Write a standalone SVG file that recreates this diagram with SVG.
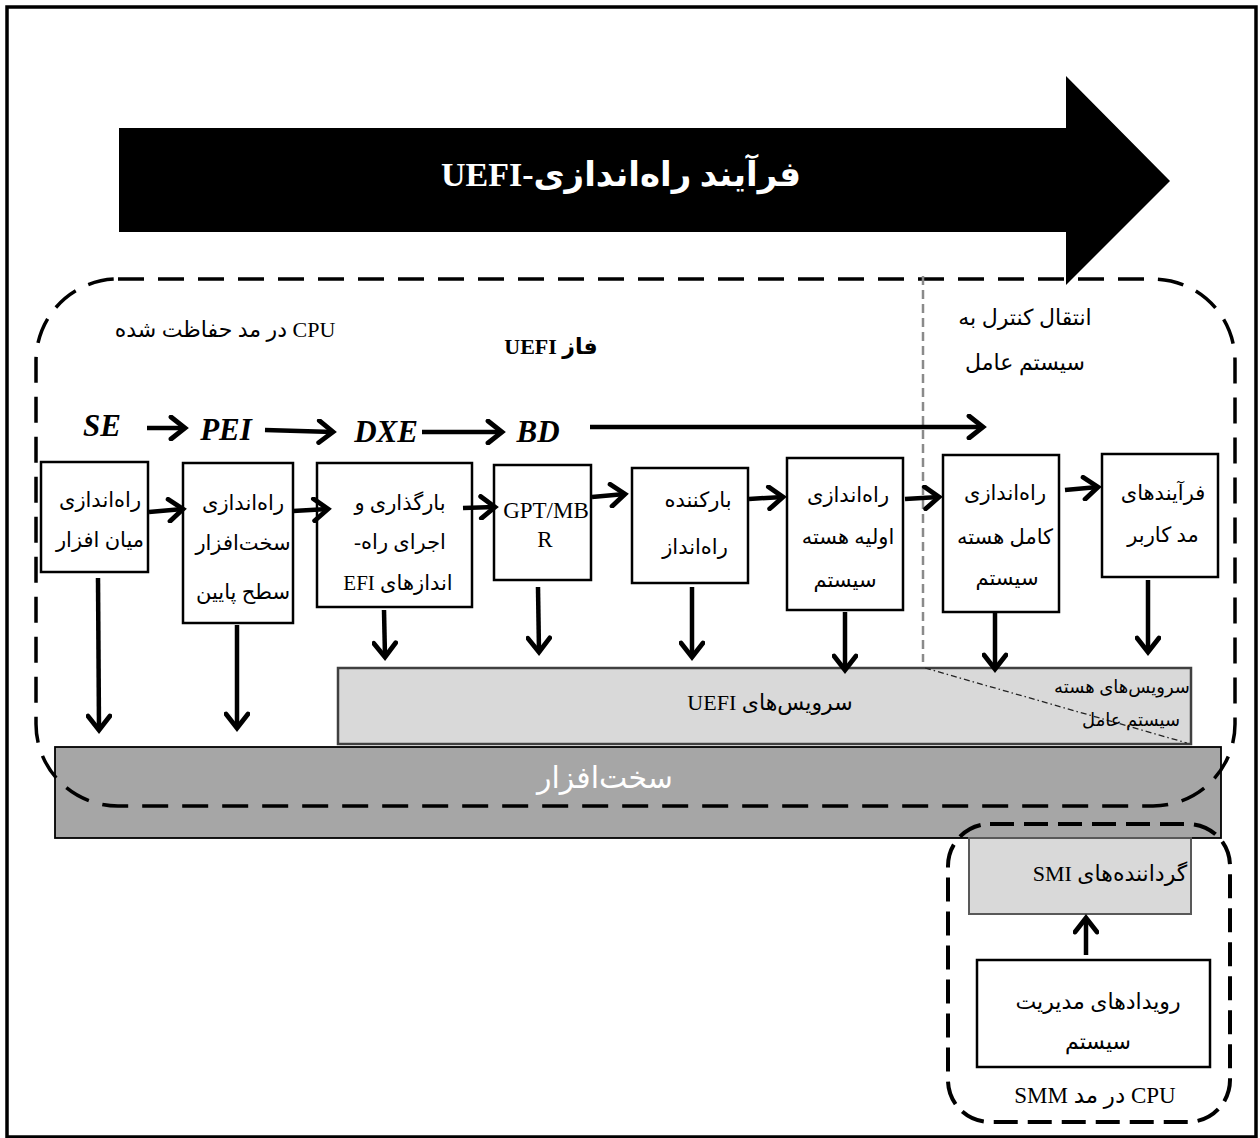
<svg xmlns="http://www.w3.org/2000/svg" width="1260" height="1138" viewBox="0 0 1260 1138">
<style>
.fa{font-family:'Liberation Serif','DejaVu Sans',serif;font-size:21px;direction:rtl;text-anchor:middle;fill:#000}
.lat{font-family:'Liberation Serif',serif;font-size:23px;text-anchor:middle;fill:#000}
.ph{font-family:'Liberation Serif',serif;font-size:31px;font-weight:bold;font-style:italic;text-anchor:middle;fill:#000}
.box{fill:#fff;stroke:#000;stroke-width:2.5}
.con{fill:none;stroke:#000;stroke-width:4.5}
.ghost{fill:none;stroke:#000;stroke-width:3.5;stroke-dasharray:26 14}
</style>
<defs>
<marker id="ah" viewBox="0 0 22 26" refX="18" refY="13" markerWidth="22" markerHeight="26" orient="auto" markerUnits="userSpaceOnUse">
<path d="M4,2 L18,13 L4,24" fill="none" stroke="#000" stroke-width="4.8" stroke-linecap="round" stroke-linejoin="miter"/>
</marker>
</defs>
<rect width="1260" height="1138" fill="#fff"/>
<rect x="7" y="7" width="1249" height="1130" fill="none" stroke="#000" stroke-width="3.5"/>

<g id="title-arrow">
<polygon points="119,128 1066,128 1066,76 1170,181 1066,285 1066,232 119,232" fill="#000"/>
<text x="621" y="186" style="font-family:'Liberation Serif','DejaVu Sans',serif;font-size:34px;font-weight:bold;direction:rtl;text-anchor:middle;fill:#fff">فرآیند راه&#x200C;اندازی-UEFI</text>
</g>

<g id="hardware">
<rect x="55" y="747" width="1166" height="91" fill="#a6a6a6" stroke="#000" stroke-width="1.8"/>
<text x="605" y="788" style="font-family:'DejaVu Sans',sans-serif;font-size:30px;direction:rtl;text-anchor:middle;fill:#fff">سخت&#x200C;افزار</text>
</g>

<g id="uefi-services">
<rect x="338" y="668" width="853" height="76" fill="#d9d9d9" stroke="#404040" stroke-width="2.5"/>
<text x="770" y="710" class="fa" style="font-size:22px">سرویس&#x200C;های UEFI</text>
<line x1="925" y1="668" x2="1187" y2="743" stroke="#222" stroke-width="1.3" stroke-dasharray="6 3 1.5 3"/>
<text x="1122" y="693" class="fa" style="font-size:18px">سرویس&#x200C;های هسته</text>
<text x="1131" y="726" class="fa" style="font-size:18px">سیستم عامل</text>
</g>

<g id="protected-mode">
<rect x="36" y="279" width="1199" height="527" rx="82" ry="82" class="ghost"/>
<text x="225" y="337" class="fa" style="font-size:22px">CPU در مد حفاظت شده</text>
<text x="551" y="354" class="fa" style="font-size:22px;font-weight:bold">فاز UEFI</text>
<text x="1025" y="325" class="fa" style="font-size:22px">انتقال کنترل به</text>
<text x="1025" y="370" class="fa" style="font-size:22px">سیستم عامل</text>
</g>

<g id="os-divider">
<line x1="923" y1="276" x2="923" y2="662" stroke="#8a8a8a" stroke-width="2.5" stroke-dasharray="9 5"/>
</g>

<g id="smm-mode">
<rect x="948" y="824" width="282" height="298" rx="42" ry="42" fill="none" stroke="#000" stroke-width="4" stroke-dasharray="24 10"/>
<text x="1095" y="1103" class="fa" style="font-size:23px">CPU در مد SMM</text>
</g>

<g id="smi-handlers">
<rect x="969" y="838" width="222" height="76" fill="#d9d9d9" stroke="#595959" stroke-width="2"/>
<text x="1110" y="881" class="fa" style="font-size:22px">گرداننده&#x200C;های SMI</text>
</g>

<g id="sm-events">
<rect x="977" y="960" width="233" height="107" class="box" stroke-width="2"/>
<text x="1098" y="1009" class="fa" style="font-size:22px">رویدادهای مدیریت</text>
<text x="1098" y="1049" class="fa" style="font-size:22px">سیستم</text>
</g>

<g id="phase-labels">
<text x="102" y="436" class="ph">SE</text>
<text x="226" y="440" class="ph">PEI</text>
<text x="386" y="442" class="ph">DXE</text>
<text x="538" y="442" class="ph">BD</text>
</g>

<g id="box-firmware">
<rect x="41" y="462" width="107" height="110" class="box"/>
<text x="100" y="507" class="fa">راه&#x200C;اندازی</text>
<text x="100" y="547" class="fa">میان افزار</text>
</g>
<g id="box-hw-init">
<rect x="183" y="463" width="110" height="160" class="box"/>
<text x="243" y="510" class="fa">راه&#x200C;اندازی</text>
<text x="243" y="550" class="fa">سخت&#x200C;افزار</text>
<text x="243" y="599" class="fa">سطح پایین</text>
</g>
<g id="box-efi-load">
<rect x="317" y="463" width="155" height="144" class="box"/>
<text x="400" y="510" class="fa">بارگذاری و</text>
<text x="400" y="549" class="fa">اجرای راه-</text>
<text x="398" y="590" class="fa">اندازهای EFI</text>
</g>
<g id="box-gpt">
<rect x="494" y="465" width="97" height="115" class="box"/>
<text x="546" y="518" class="lat">GPT/MB</text>
<text x="545" y="547" class="lat">R</text>
</g>
<g id="box-loader">
<rect x="632" y="468" width="116" height="115" class="box"/>
<text x="698" y="507" class="fa">بارکننده</text>
<text x="695" y="554" class="fa">راه&#x200C;انداز</text>
</g>
<g id="box-kernel-early">
<rect x="787" y="458" width="116" height="152" class="box"/>
<text x="848" y="502" class="fa">راه&#x200C;اندازی</text>
<text x="848" y="544" class="fa">اولیه هسته</text>
<text x="845" y="587" class="fa">سیستم</text>
</g>
<g id="box-kernel-full">
<rect x="943" y="455" width="116" height="157" class="box"/>
<text x="1005" y="500" class="fa">راه&#x200C;اندازی</text>
<text x="1005" y="544" class="fa">کامل هسته</text>
<text x="1007" y="585" class="fa">سیستم</text>
</g>
<g id="box-user">
<rect x="1102" y="454" width="116" height="123" class="box"/>
<text x="1163" y="500" class="fa">فرآیندهای</text>
<text x="1163" y="542" class="fa">مد کاربر</text>
</g>

<g id="connectors" class="con">
<line x1="147" y1="428" x2="185" y2="428" marker-end="url(#ah)"/>
<line x1="265" y1="430" x2="333" y2="432" marker-end="url(#ah)"/>
<line x1="422" y1="432" x2="502" y2="432" marker-end="url(#ah)"/>
<line x1="590" y1="427" x2="983" y2="427" marker-end="url(#ah)"/>
<line x1="149" y1="512" x2="183" y2="509" marker-end="url(#ah)"/>
<line x1="293" y1="511" x2="328" y2="509" marker-end="url(#ah)"/>
<line x1="463" y1="508" x2="495" y2="507" marker-end="url(#ah)"/>
<line x1="592" y1="497" x2="625" y2="494" marker-end="url(#ah)"/>
<line x1="749" y1="499" x2="783" y2="497" marker-end="url(#ah)"/>
<line x1="905" y1="499" x2="939" y2="497" marker-end="url(#ah)"/>
<line x1="1065" y1="490" x2="1098" y2="487" marker-end="url(#ah)"/>
<line x1="98" y1="578" x2="99" y2="730" marker-end="url(#ah)"/>
<line x1="237" y1="625" x2="237" y2="728" marker-end="url(#ah)"/>
<line x1="384" y1="610" x2="385" y2="657" marker-end="url(#ah)"/>
<line x1="538" y1="587" x2="539" y2="652" marker-end="url(#ah)"/>
<line x1="692" y1="587" x2="692" y2="657" marker-end="url(#ah)"/>
<line x1="845" y1="612" x2="845" y2="670" marker-end="url(#ah)"/>
<line x1="995" y1="613" x2="995" y2="669" marker-end="url(#ah)"/>
<line x1="1148" y1="580" x2="1148" y2="652" marker-end="url(#ah)"/>
<line x1="1086" y1="955" x2="1086" y2="918" marker-end="url(#ah)"/>
</g>
</svg>
